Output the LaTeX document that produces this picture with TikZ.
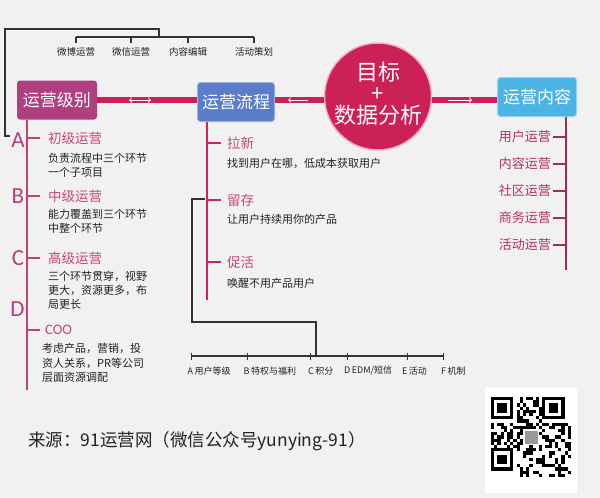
\documentclass[tikz,border=0pt]{standalone}
\usepackage{fontspec}
\setmainfont{Noto Sans CJK SC}
\newfontfamily\latinfont{Carlito}
\usetikzlibrary{arrows.meta}
\definecolor{bg}{HTML}{F1F1F1}
\definecolor{crim}{HTML}{CC2156}
\definecolor{magbox}{HTML}{B03F80}
\definecolor{bluebox}{HTML}{5B7DC9}
\definecolor{cyanbox}{HTML}{4CB4E4}
\definecolor{pinktxt}{HTML}{C8487A}
\definecolor{redtxt}{HTML}{B8305F}
\definecolor{pinkline}{HTML}{C2416F}
\definecolor{darkline}{HTML}{9E2F4C}
\definecolor{lettercol}{HTML}{B5407F}
\definecolor{darktxt}{HTML}{222222}
\definecolor{blkline}{HTML}{333333}
\begin{document}
\begin{tikzpicture}[x=1pt,y=-1pt,
  box/.style={rounded corners=3pt, text=white, minimum width=#1, minimum height=39pt,
    inner sep=0pt, font=\fontsize{17}{17}\selectfont},
  head/.style={anchor=west, inner sep=0pt, text=pinktxt, font=\fontsize{13.5}{14}\selectfont},
  desc/.style={anchor=west, inner sep=0pt, align=left, text=darktxt, font=\fontsize{11}{14.2}\selectfont},
  rlabel/.style={anchor=east, inner sep=0pt, text=redtxt, font=\fontsize{13}{14}\selectfont},
  toplabel/.style={inner sep=0pt, text=darktxt, font=\fontsize{9.5}{10}\selectfont},
  blabel/.style={anchor=west, inner sep=0pt, text=darktxt, font=\fontsize{9}{10}\selectfont},
  letter/.style={inner sep=0pt, text=lettercol, font=\latinfont\fontsize{23}{23}\selectfont},
  bar/.style={draw=crim, line width=6pt},
  barrow/.style={draw=white, line width=0.7pt, arrows={Straight Barb[length=2.5pt,width=5pt]-Straight Barb[length=2.5pt,width=5pt]}},
  blk/.style={draw=blkline, line width=1.1pt},
  pline/.style={draw=pinkline, line width=1.1pt},
  rline/.style={draw=darkline, line width=1.3pt}]
\fill[bg] (0,0) rectangle (600,498);
\useasboundingbox (0,0) rectangle (600,498);

% main boxes and circle
\node[box=80pt, fill=magbox] (jibie) at (57,100) {运营级别};
\node[box=77pt, fill=bluebox, draw=bluebox!60!white, line width=1pt] (liucheng) at (236,102) {运营流程};
\node[box=79pt, fill=cyanbox, draw=cyanbox!60!white, line width=1pt] (neirong) at (537,97) {运营内容};
\node[circle, fill=crim, draw=crim!35!white, line width=1.5pt, minimum size=107pt, inner sep=0pt] (circ) at (378,96.5) {};
\node[inner sep=0pt, text=white, align=center, font=\fontsize{22}{21.5}\selectfont] (circtext) at ([yshift=3pt]circ.center) {目标\\+\\数据分析};

% red bar
\draw[bar] (jibie.east) -- (liucheng.west |- jibie.east);
\draw[bar] (liucheng.east |- jibie.east) -- (circ.west |- jibie.east);
\draw[bar] (circ.east |- jibie.east) -- (neirong.west |- jibie.east);

% arrows on bar
\coordinate (a1l) at (129,100); \coordinate (a1r) at (151,100);
\coordinate (a2l) at (288,100); \coordinate (a2r) at (308,100);
\coordinate (a3l) at (448,100); \coordinate (a3r) at (472,100);
\draw[barrow, arrows={Straight Barb[length=2.5pt,width=5pt]-Straight Barb[length=2.5pt,width=5pt]}] (a1l) -- (a1r);
\draw[barrow, arrows={Straight Barb[length=2.5pt,width=5pt]-}] (a2l) -- (a2r);
\draw[barrow, arrows={-Straight Barb[length=2.5pt,width=5pt]}] (a3l) -- (a3r);

% top bracket
\node[toplabel] (wb) at (76,52) {微博运营};
\node[toplabel] (wx) at (131,52) {微信运营};
\node[toplabel] (nr) at (188,52) {内容编辑};
\node[toplabel] (hd) at (254,52) {活动策划};
\coordinate (tbar) at (0,37);
\coordinate (tl1) at (10,136);
\coordinate (tl2) at (5,136);
\coordinate (tl3) at (5,29);
\coordinate (tl4) at (159,29);
\draw[blk] (tl1) -- (tl2) -- (tl3) -- (tl4) -- (tl4 |- tbar);
\draw[blk] (wb.north |- tbar) -- (hd.north |- tbar);
\foreach \n in {wb,wx,nr,hd}{
  \draw[blk] (\n.north |- tbar) -- ([yshift=4pt]\n.north);
}

% left column
\coordinate (lv) at (27,390);
\coordinate (lt) at (40,0);
\draw[pline] (lv |- jibie.south) -- (lv);
\node[letter] (la) at (18,140) {A};
\node[letter] (lb) at (18,196) {B};
\node[letter] (lc) at (18,258) {C};
\node[letter] (ld) at (17.5,309) {D};
\node[head] (h1) at (48,138) {初级运营};
\node[head] (h2) at (48,196) {中级运营};
\node[head] (h3) at (48,258) {高级运营};
\node[head, font=\latinfont\fontsize{14.5}{15}\selectfont] (h4) at (45,330) {COO};
\foreach \n in {h1,h2,h3,h4}{
  \draw[pline] (lv |- \n.west) -- (lt |- \n.west);
}
\node[desc] (d1) at (48,165) {负责流程中三个环节\\一个子项目};
\node[desc] (d2) at (48,221.5) {能力覆盖到三个环节\\中整个环节};
\node[desc] (d3) at (48,290) {三个环节贯穿，视野\\更大，资源更多，布\\局更长};
\node[desc] (d4) at (42,363) {考虑产品，营销，投\\资人关系，PR等公司\\层面资源调配};

% middle column
\coordinate (mv) at (207,300);
\coordinate (mt) at (221,0);
\draw[pline, draw=crim!85!pinkline] (mv |- liucheng.south) -- (mv);
\node[head] (m1) at (227,143) {拉新};
\node[head] (m2) at (227,200) {留存};
\node[head] (m3) at (227,262) {促活};
\foreach \n in {m1,m2,m3}{
  \draw[pline, draw=crim!85!pinkline] (mv |- \n.west) -- (mt |- \n.west);
}
\node[desc] (e1) at (227,163) {找到用户在哪，低成本获取用户};
\node[desc] (e2) at (227,219) {让用户持续用你的产品};
\node[desc] (e3) at (227,283) {唤醒不用产品用户};

% bottom bracket
\coordinate (kA) at (205,199);
\coordinate (kB) at (192,199);
\coordinate (kC) at (192,322);
\coordinate (kD) at (316,322);
\coordinate (tA) at (191,356);
\coordinate (tB) at (247,356);
\coordinate (tC) at (310,356);
\coordinate (tD) at (347,356);
\coordinate (tE) at (407,356);
\coordinate (tF) at (443,356);
\draw[blk] (kA) -- (kB) -- (kC) -- (kD) -- (kD |- tA);
\draw[blk] (tA) -- (tF);
\foreach \t in {tA,tB,tC,tD,tE,tF}{
  \draw[blk, line width=0.9pt] ([yshift=3pt]\t) -- ([yshift=-4pt]\t);
}
\node[blabel] (ba) at ([xshift=-3.5pt,yshift=-15pt]tA) {A\,用户等级};
\node[blabel] (bb) at ([xshift=-3.5pt,yshift=-15pt]tB) {B\,特权与福利};
\node[blabel] (bc) at ([xshift=-2pt,yshift=-15pt]tC) {C\,积分};
\node[blabel] (bd) at ([xshift=-3pt,yshift=-15pt]tD) {D\,EDM/短信};
\node[blabel] (be) at ([xshift=-5pt,yshift=-15pt]tE) {E\,活动};
\node[blabel] (bf) at ([xshift=-2pt,yshift=-15pt]tF) {F\,机制};

% right column
\coordinate (rv) at (566,270);
\coordinate (rt) at (553,0);
\draw[rline] (rv |- neirong.south) -- (rv);
\node[rlabel] (r1) at (551,137) {用户运营};
\node[rlabel] (r2) at (551,164) {内容运营};
\node[rlabel] (r3) at (551,191) {社区运营};
\node[rlabel] (r4) at (551,218) {商务运营};
\node[rlabel] (r5) at (551,245) {活动运营};
\foreach \n in {r1,r2,r3,r4,r5}{
  \draw[rline] (rv |- \n.east) -- (rt |- \n.east);
}

% source text
\node[anchor=west, inner sep=0pt, text=darktxt, font=\fontsize{17.5}{18}\selectfont] (src) at (28,441) {来源：91运营网（微信公众号yunying-91）};

% QR code (drawn pattern)
\fill[white] (485,388) rectangle (577,493);
\pgfmathsetseed{1234}
\foreach \i in {0,...,24}{
  \foreach \j in {0,...,24}{
    \pgfmathtruncatemacro{\f}{or(or(and(\i<8,\j<8),and(\i>16,\j<8)),and(\i<8,\j>16))}
    \pgfmathtruncatemacro{\r}{rnd<0.5}
    \ifnum\f=0 \ifnum\r=1
      \fill[black] (491+3.2*\i,397+3.2*\j) rectangle +(3.2,3.2);
    \fi\fi
  }
}
\foreach \ox/\oy in {491/397, 542.2/397, 491/448.2}{
  \fill[black] (\ox,\oy) rectangle +(22.4,22.4);
  \fill[white] (\ox+3.2,\oy+3.2) rectangle +(16,16);
  \fill[black] (\ox+6.4,\oy+6.4) rectangle +(9.6,9.6);
}
\fill[white] (523,429) rectangle (539,445);
\fill[gray!80] (524.5,430.5) rectangle (537.5,443.5);
\end{tikzpicture}
\end{document}
